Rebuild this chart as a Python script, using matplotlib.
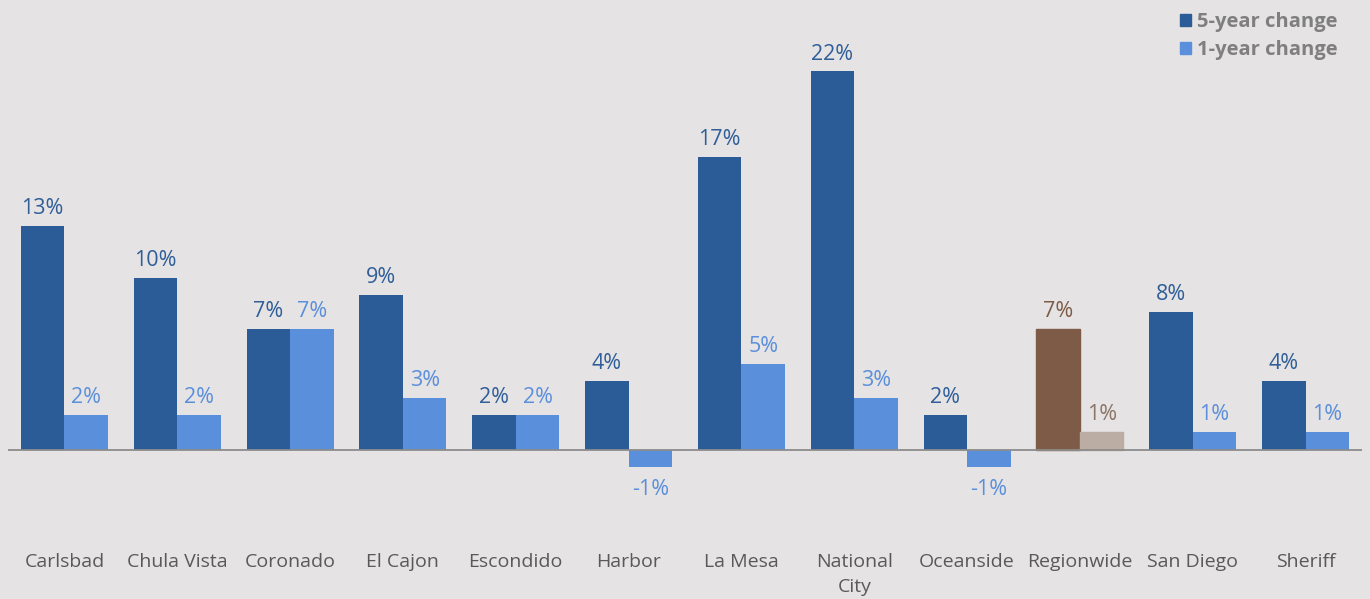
import numpy as np
import matplotlib
matplotlib.use("Agg")
import matplotlib.pyplot as plt
from matplotlib.patches import Patch

plt.rcParams['font.family'] = ['Open Sans', 'DejaVu Sans']

categories = ['Carlsbad', 'Chula Vista', 'Coronado', 'El Cajon', 'Escondido', 'Harbor',
              'La Mesa', 'National\nCity', 'Oceanside', 'Regionwide', 'San Diego', 'Sheriff']
five_year = [13, 10, 7, 9, 2, 4, 17, 22, 2, 7, 8, 4]
one_year = [2, 2, 7, 3, 2, -1, 5, 3, -1, 1, 1, 1]
highlight = 'Regionwide'

bg = '#E5E3E4'
dark_blue = '#2B5C97'
light_blue = '#5A8FDC'
brown = '#7E5B46'
tan = '#BBADA4'

fig = plt.figure(figsize=(13.7, 5.99), dpi=100, facecolor=bg)
ax = fig.add_axes([8 / 1370, 79 / 599, 1354 / 1370, 520 / 599], facecolor=bg)

x = np.arange(len(categories))
w = 0.386
b5 = ax.bar(x - w / 2, five_year, w, color=dark_blue, label='5-year change')
b1 = ax.bar(x + w / 2, one_year, w, color=light_blue, label='1-year change')

for i, cat in enumerate(categories):
    c5, c1 = dark_blue, light_blue
    t5, t1 = '#2F5E98', '#5B8FDB'
    if cat == highlight:
        c5, c1 = brown, tan
        t5, t1 = '#7E5B47', '#8A7567'
        b5[i].set_color(c5)
        b1[i].set_color(c1)
    for xpos, v, tc in [(x[i] - w / 2, five_year[i], t5), (x[i] + w / 2, one_year[i], t1)]:
        if v >= 0:
            ax.annotate(f'{v}%', (xpos, v), xytext=(0, 5), textcoords='offset points',
                        ha='center', va='bottom', fontsize=15.5, color=tc)
        else:
            ax.annotate(f'{v}%', (xpos, v), xytext=(0, -8.5), textcoords='offset points',
                        ha='center', va='top', fontsize=15.5, color=tc)

ax.axhline(0, color='#8C8C8C', lw=1.3)
ax.set_xlim(-0.5, len(categories) - 0.5)
ax.set_ylim(-4.10, 26.16)
ax.set_yticks([])
ax.set_xticks(x)
ax.set_xticklabels(categories, fontsize=14, color='#595959', linespacing=1.5)
ax.tick_params(axis='x', length=0, pad=23.5)
for s in ax.spines.values():
    s.set_visible(False)

handles = [Patch(color=dark_blue), Patch(color=light_blue)]
leg = fig.legend(handles, ['5-year change', '1-year change'], loc='upper right',
                 bbox_to_anchor=(1346 / 1370, 1 - 4 / 599), frameon=False,
                 handlelength=0.55, handleheight=0.55, handletextpad=0.3,
                 labelspacing=0.4, borderaxespad=0,
                 prop={'size': 14.5, 'weight': 'bold'})
for t in leg.get_texts():
    t.set_color('#7F7F7F')

fig.savefig('out.png', dpi=100, facecolor=bg)
